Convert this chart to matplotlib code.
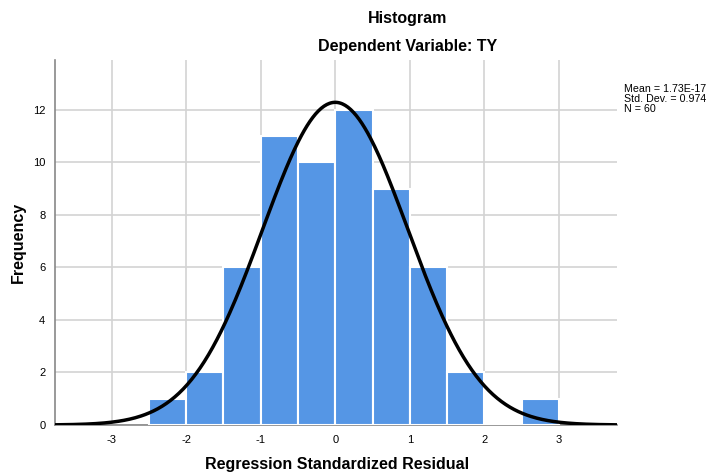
import numpy as np
import matplotlib
matplotlib.use("Agg")
import matplotlib.pyplot as plt

plt.rcParams['font.family'] = ['Liberation Sans', 'DejaVu Sans']
plt.rcParams['axes.unicode_minus'] = False

bin_edges = [-2.5, -2.0, -1.5, -1.0, -0.5, 0.0, 0.5, 1.0, 1.5, 2.0, 2.5, 3.0]
counts = [1, 2, 6, 11, 10, 12, 9, 6, 2, 0, 1]
mean = 1.73e-17
std = 0.974
n = 60
xticks = [-3, -2, -1, 0, 1, 2, 3]
yticks = [0, 2, 4, 6, 8, 10, 12]

fig = plt.figure(figsize=(7.07, 4.74), dpi=100)
ax = fig.add_axes([55/707, 49/474, 562/707, 365/474])

lefts = bin_edges[:-1]
widths = np.diff(bin_edges)
ax.bar(lefts, counts, width=widths, align='edge', color='#5596e5',
       edgecolor='white', linewidth=1.5, zorder=3)

xmin, xmax = -3.76, 3.78
xs = np.linspace(xmin, xmax, 400)
bw = widths[0]
ys = n * bw / (std * np.sqrt(2 * np.pi)) * np.exp(-0.5 * ((xs - mean) / std) ** 2)
ax.plot(xs, ys, color='black', linewidth=2.5, zorder=4)

ax.set_xlim(xmin, xmax)
ax.set_ylim(0, 13.9)
ax.set_xticks(xticks)
ax.set_yticks(yticks)
ax.tick_params(length=0, labelsize=8, pad=7)
ax.grid(True, color='#d3d3d3', linewidth=1.2, zorder=0)
ax.set_axisbelow(True)
for s in ['top', 'right']:
    ax.spines[s].set_visible(False)
for s in ['left', 'bottom']:
    ax.spines[s].set_color('#888888')
    ax.spines[s].set_linewidth(1.2)

fig.text(337/707, 1 - 465/474, 'Regression Standardized Residual', ha='center', va='center',
         fontsize=11.5, fontweight='bold')
fig.text(18/707, 1 - 242/474, 'Frequency', ha='center', va='center', rotation=90,
         fontsize=11.5, fontweight='bold')

fig.text(408/707, 1 - 18/474, 'Histogram', ha='center', va='center', fontsize=11.5, fontweight='bold')
fig.text(408/707, 1 - 47/474, 'Dependent Variable: TY', ha='center', va='center', fontsize=11.5, fontweight='bold')

fig.text(624/707, 1 - 99/474, 'Mean = 1.73E-17\nStd. Dev. = 0.974\nN = 60',
         ha='left', va='center', fontsize=7.7, linespacing=0.95)

fig.savefig('out.png', dpi=100)
